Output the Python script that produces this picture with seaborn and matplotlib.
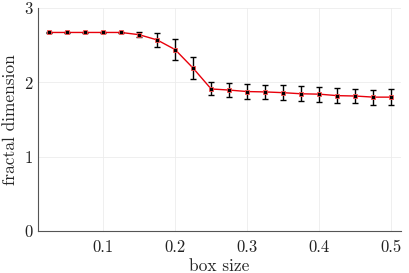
import matplotlib
matplotlib.use("Agg")
import matplotlib.pyplot as plt
import seaborn as sns
import pandas as pd

box_size = [0.025, 0.05, 0.075, 0.1, 0.125, 0.15, 0.175, 0.2, 0.225, 0.25,
            0.275, 0.3, 0.325, 0.35, 0.375, 0.4, 0.425, 0.45, 0.475, 0.5]
frac_dim = [2.67, 2.67, 2.67, 2.67, 2.67, 2.64, 2.57, 2.44, 2.19, 1.91,
            1.895, 1.875, 1.87, 1.86, 1.845, 1.84, 1.82, 1.815, 1.80, 1.80]
frac_err = [0.005, 0.005, 0.005, 0.005, 0.008, 0.03, 0.09, 0.145, 0.15, 0.087,
            0.09, 0.095, 0.095, 0.1, 0.1, 0.1, 0.1, 0.1, 0.1, 0.11]
x_ticks = [0.1, 0.2, 0.3, 0.4, 0.5]
y_ticks = [0, 1, 2, 3]

df = pd.DataFrame({"box size": box_size, "fractal dimension": frac_dim})

sns.set_style("white")
plt.rcParams["font.family"] = ["cmr10", "DejaVu Serif"]
plt.rcParams["mathtext.fontset"] = "cm"
plt.rcParams["axes.formatter.use_mathtext"] = True

fig = plt.figure(figsize=(4.09, 2.73), dpi=100)
ax = fig.add_axes([0.093, 0.154, 0.887, 0.817])

ax.errorbar(box_size, frac_dim, yerr=frac_err, fmt="none", ecolor="black",
            elinewidth=1.0, capsize=2.5, capthick=1.0, zorder=3)
sns.lineplot(data=df, x="box size", y="fractal dimension", ax=ax, color="#e8000b",
             linewidth=1.0, marker="s", markersize=3.5, markerfacecolor="black",
             markeredgecolor="#ff5050", markeredgewidth=0.6, zorder=4)

ax.set_xlim(0.01, 0.513)
ax.set_ylim(0, 3)
ax.set_xticks(x_ticks)
ax.set_xticklabels([str(t) for t in x_ticks])
ax.set_yticks(y_ticks)
ax.grid(True, color="#ececec", linewidth=0.6)
ax.tick_params(direction="in", length=3, labelsize=12, color="#555555",
               labelcolor="#222222")
ax.tick_params(axis="x", pad=6)
for side in ["top", "right"]:
    ax.spines[side].set_visible(False)
for side in ["left", "bottom"]:
    ax.spines[side].set_color("#555555")
    ax.spines[side].set_linewidth(0.8)
ax.set_xlabel("box size", fontsize=12.5, labelpad=3)
ax.set_ylabel("fractal dimension", fontsize=12.5, labelpad=4)

fig.savefig("out.png", dpi=100)
